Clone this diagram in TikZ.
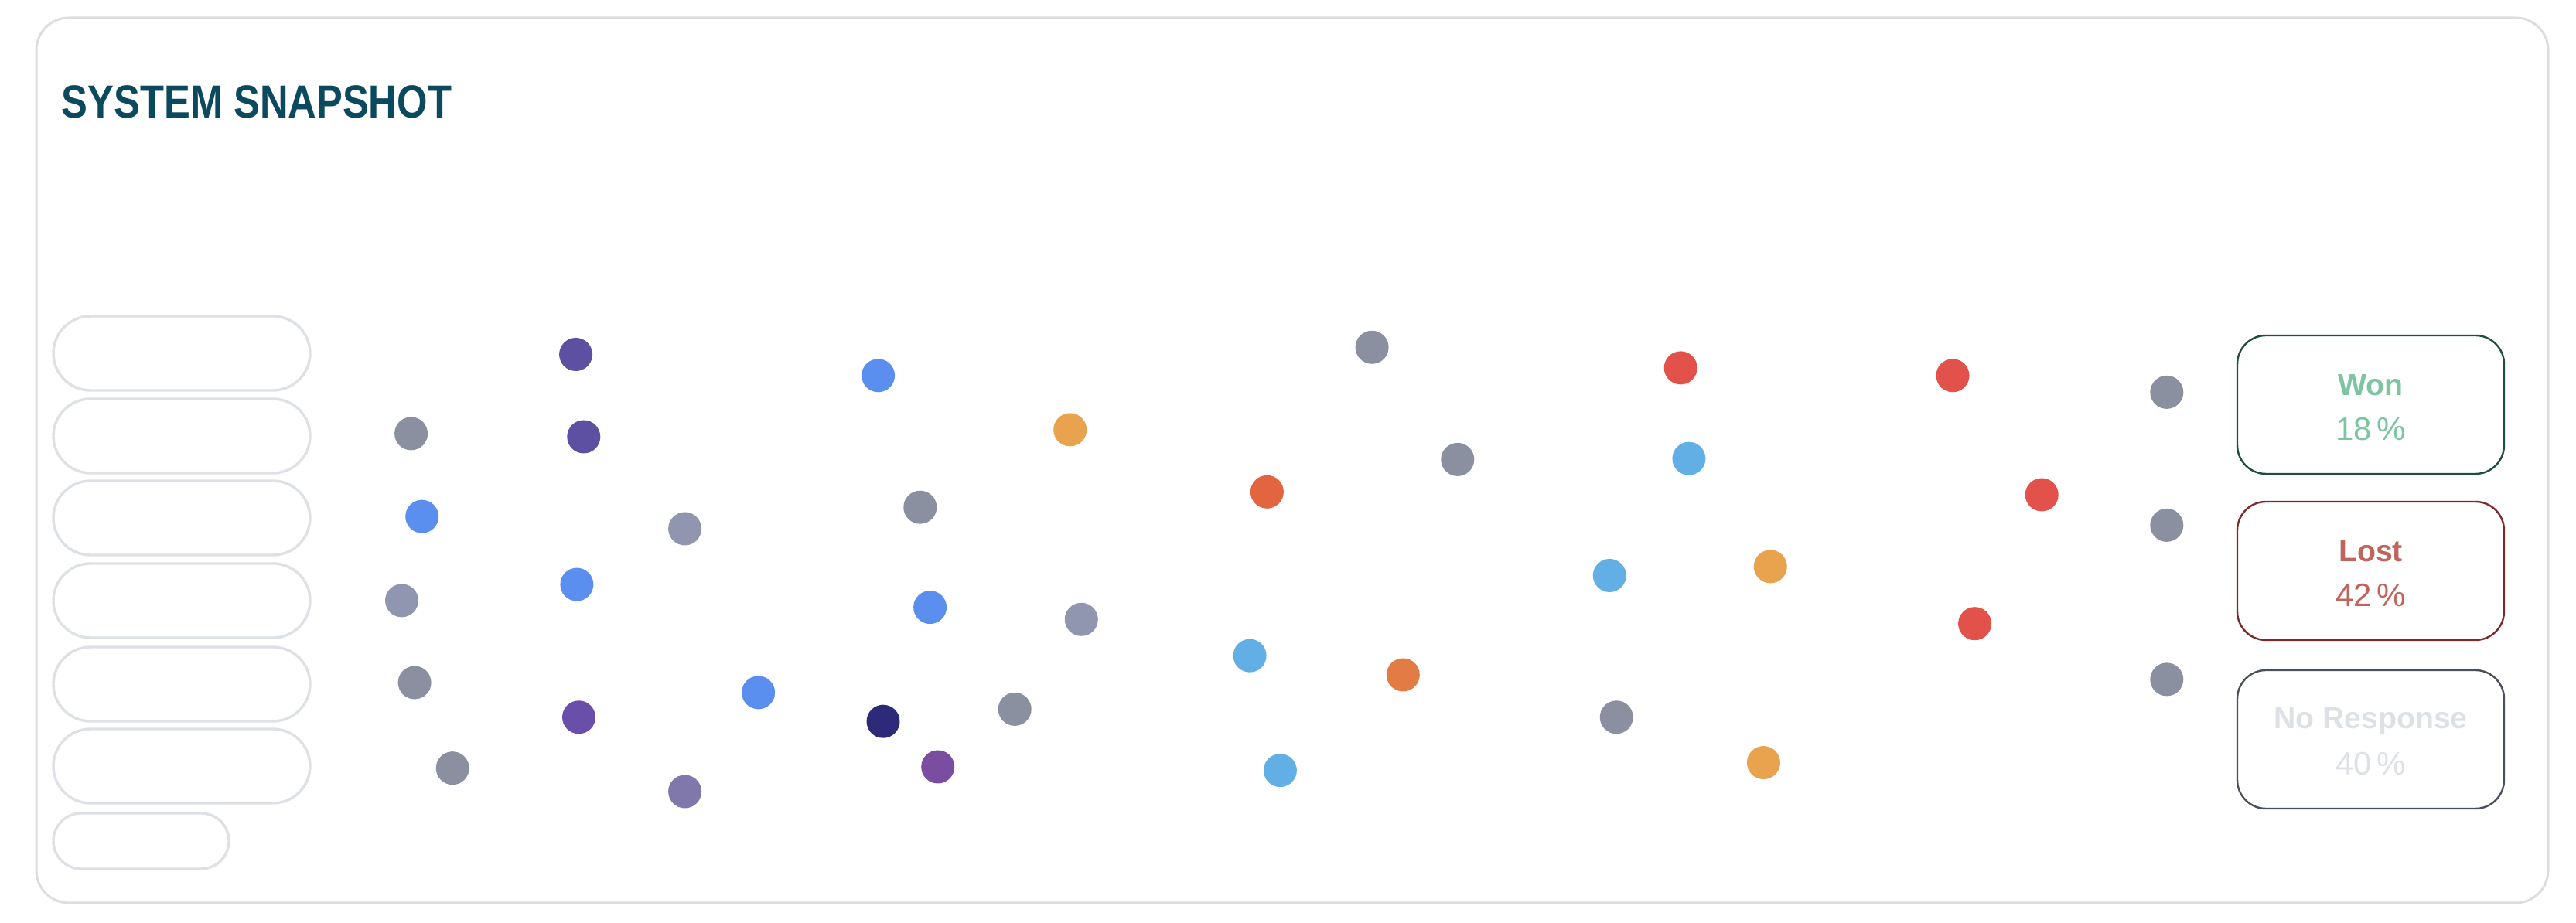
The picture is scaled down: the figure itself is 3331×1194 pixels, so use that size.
\documentclass[tikz,border=0pt]{standalone}
\usepackage{fontspec}
\usepackage{graphicx}
\setmainfont{Liberation Sans}
\definecolor{frame}{HTML}{DDDDDD}
\definecolor{pillc}{HTML}{DDE1E6}
\definecolor{titlec}{HTML}{0B4A5E}
\definecolor{wonb}{HTML}{1F4E3D}
\definecolor{wont}{HTML}{7DC4A0}
\definecolor{lostb}{HTML}{7B2B2B}
\definecolor{lostt}{HTML}{C0645C}
\definecolor{nrb}{HTML}{4A4F5C}
\definecolor{nrt}{HTML}{DDE1E6}
\definecolor{cgrey}{HTML}{8A90A0}
\definecolor{clav}{HTML}{9095B0}
\definecolor{cpurd}{HTML}{5D50A3}
\definecolor{cpur}{HTML}{6A4FAA}
\definecolor{cnavy}{HTML}{2E2A7A}
\definecolor{cviol}{HTML}{7B4DA0}
\definecolor{cpgrey}{HTML}{8078AA}
\definecolor{cblue}{HTML}{5B8FEF}
\definecolor{clblue}{HTML}{62AFE6}
\definecolor{corange}{HTML}{E9A24E}
\definecolor{cored}{HTML}{E3653F}
\definecolor{corange2}{HTML}{E37B45}
\definecolor{cred}{HTML}{E2524A}
\tikzset{
  dot/.style={circle, inner sep=0pt, minimum size=43*0.25pt, draw=none},
  pill/.style={draw=pillc, line width=0.85pt, rectangle, inner sep=0pt},
  outbox/.style={rectangle, line width=0.6pt, rounded corners=9.25pt, inner sep=0pt,
    minimum width=345*0.25pt, minimum height=179*0.25pt},
  lab/.style={font=\fontsize{9.8pt}{11pt}\selectfont\bfseries, anchor=base, inner sep=0pt},
  num/.style={font=\fontsize{10.5pt}{12pt}\selectfont, anchor=base, inner sep=0pt},
}
\begin{document}
\begin{tikzpicture}[x=0.25pt, y=-0.25pt]
\useasboundingbox (0,0) rectangle (3331,1194);
% frame
\draw[frame, line width=0.75pt, rounded corners=10.5pt] (47,23) rectangle (3295,1168);
% title
\node[anchor=base west, inner sep=0pt, text=titlec, font=\fontsize{15pt}{18pt}\selectfont\bfseries] (title) at (79,153) {\scalebox{0.845}[1]{SYSTEM SNAPSHOT}};
% pills
\foreach \i/\cy in {1/457, 2/564, 3/670, 4/777, 5/885, 6/991} {
  \node[pill, rounded corners=12pt, minimum width=332*0.25pt, minimum height=96*0.25pt] (p\i) at (235,\cy) {};
}
\node[pill, rounded corners=9pt, minimum width=227*0.25pt, minimum height=72*0.25pt] (p7) at (182.5,1088) {};
% dots
\node[dot, fill=cpurd] (d1) at (744.6,458.5) {};
\node[dot, fill=cgrey] (d2) at (531.6,560.9) {};
\node[dot, fill=cpurd] (d3) at (754.8,565) {};
\node[dot, fill=cblue] (d4) at (1135.6,485.8) {};
\node[dot, fill=corange] (d5) at (1383.7,555.9) {};
\node[dot, fill=cblue] (d6) at (545.7,668.2) {};
\node[dot, fill=clav] (d7) at (885.6,684) {};
\node[dot, fill=cgrey] (d8) at (1189.8,656.2) {};
\node[dot, fill=clav] (d9) at (519.5,776.9) {};
\node[dot, fill=cblue] (d10) at (745.9,756.1) {};
\node[dot, fill=cblue] (d11) at (1202.6,785.6) {};
\node[dot, fill=clav] (d12) at (1398.3,801.3) {};
\node[dot, fill=cgrey] (d13) at (536.1,883) {};
\node[dot, fill=cpur] (d14) at (748.5,927.8) {};
\node[dot, fill=cblue] (d15) at (980.6,895.9) {};
\node[dot, fill=cnavy] (d16) at (1142,933.2) {};
\node[dot, fill=cgrey] (d17) at (1312.2,917.4) {};
\node[dot, fill=cgrey] (d18) at (585.2,993.7) {};
\node[dot, fill=cpgrey] (d19) at (885.6,1024) {};
\node[dot, fill=cviol] (d20) at (1212.7,992) {};
\node[dot, fill=cgrey] (d21) at (1774.1,449.3) {};
\node[dot, fill=cred] (d22) at (2173.2,475.9) {};
\node[dot, fill=cred] (d23) at (2525,485.8) {};
\node[dot, fill=cgrey] (d24) at (2801.8,507.4) {};
\node[dot, fill=cgrey] (d25) at (1884.8,594.4) {};
\node[dot, fill=clblue] (d26) at (2183.9,593.2) {};
\node[dot, fill=cored] (d27) at (1638.4,636.3) {};
\node[dot, fill=cred] (d28) at (2640.2,640) {};
\node[dot, fill=cgrey] (d29) at (2801.8,679.4) {};
\node[dot, fill=clblue] (d30) at (2081.3,744.5) {};
\node[dot, fill=corange] (d31) at (2289.3,732.9) {};
\node[dot, fill=cred] (d32) at (2553.6,806.7) {};
\node[dot, fill=clblue] (d33) at (1616.1,848.2) {};
\node[dot, fill=corange2] (d34) at (1814.3,873) {};
\node[dot, fill=cgrey] (d35) at (2801.8,878.9) {};
\node[dot, fill=cgrey] (d36) at (2090.2,927.8) {};
\node[dot, fill=clblue] (d37) at (1655.4,996.6) {};
\node[dot, fill=corange] (d38) at (2280.4,986.6) {};
% outcome boxes
\node[outbox, draw=wonb] (won) at (3065.5,523.5) {};
\node[outbox, draw=lostb] (lost) at (3065.5,738.5) {};
\node[outbox, draw=nrb] (nr) at (3065.5,956.5) {};
\node[lab, text=wont] (wonl) at (3065.5,512) {Won};
\node[num, text=wont] (wonn) at (3065.5,570) {18\,\%};
\node[lab, text=lostt] (lostl) at (3065.5,727) {Lost};
\node[num, text=lostt] (lostn) at (3065.5,785) {42\,\%};
\node[lab, text=nrt] (nrl) at (3065.5,943) {No Response};
\node[num, text=nrt] (nrn) at (3065.5,1003) {40\,\%};
\end{tikzpicture}
\end{document}
